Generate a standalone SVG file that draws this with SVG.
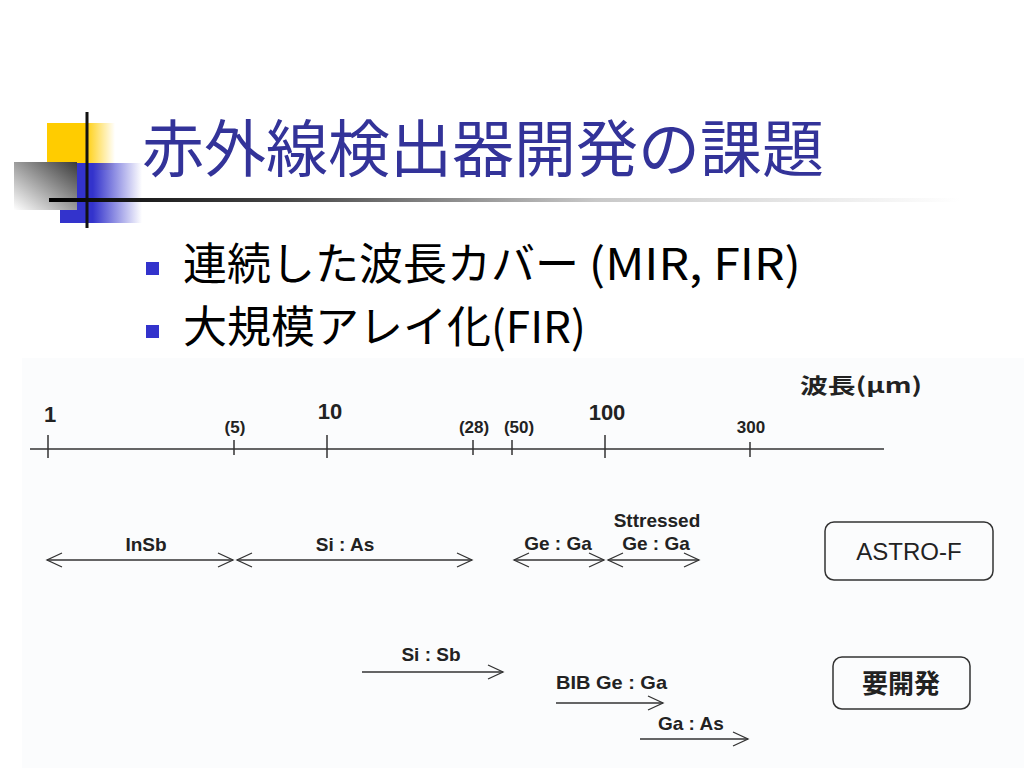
<svg xmlns="http://www.w3.org/2000/svg" width="1024" height="768" viewBox="0 0 1024 768">
<defs>
<linearGradient id="gYellow" x1="0" y1="0" x2="1" y2="0">
<stop offset="0" stop-color="#ffcc00"/><stop offset="0.55" stop-color="#ffcc00"/><stop offset="1" stop-color="#ffcc00" stop-opacity="0"/>
</linearGradient>
<linearGradient id="gBlue" x1="0" y1="0" x2="1" y2="0">
<stop offset="0" stop-color="#3333cc"/><stop offset="0.4" stop-color="#3333cc"/><stop offset="1" stop-color="#3333cc" stop-opacity="0"/>
</linearGradient>
<linearGradient id="gGrey" x1="0" y1="1" x2="1" y2="0">
<stop offset="0" stop-color="#ffffff"/><stop offset="1" stop-color="#3a3a3a"/>
</linearGradient>
<linearGradient id="gRule" gradientUnits="userSpaceOnUse" x1="49" y1="0" x2="960" y2="0">
<stop offset="0" stop-color="#000000"/><stop offset="0.25" stop-color="#444444"/><stop offset="0.6" stop-color="#c8c8c8"/><stop offset="1" stop-color="#ffffff"/>
</linearGradient>
<marker id="chev" markerUnits="userSpaceOnUse" viewBox="-17 -9 19 18" refX="0" refY="0" markerWidth="19" markerHeight="18" orient="auto-start-reverse">
<path d="M-15,-7 L0,0 L-15,7" fill="none" stroke="#333" stroke-width="1.3"/>
</marker>
</defs>
<style>
.title{font-family:"Noto Sans CJK JP",sans-serif;font-size:62px;fill:#333399}
.bul{font-family:"Noto Sans CJK JP",sans-serif;font-size:44px;fill:#000}
.dot{fill:#3333cc}
.big{font-family:"Liberation Sans",Arial,sans-serif;font-size:22px;font-weight:bold;fill:#222}
.sm{font-family:"Liberation Sans",Arial,sans-serif;font-size:17px;font-weight:bold;fill:#222}
.lab{font-family:"Liberation Sans",Arial,sans-serif;font-size:19px;font-weight:bold;fill:#222}
.box{fill:none;stroke:#333;stroke-width:1.5}
.ln{stroke:#333;stroke-width:1.5;fill:none}
.arr{stroke:#333;stroke-width:1.5;fill:none}
</style>
<rect width="1024" height="768" fill="#ffffff"/>
<g id="decoration">
<rect x="47" y="123" width="68" height="47" fill="url(#gYellow)"/>
<rect x="60" y="163" width="82" height="60" fill="url(#gBlue)"/>
<rect x="14" y="162" width="63" height="48" fill="url(#gGrey)"/>
<rect x="85.5" y="112" width="3" height="116" fill="#111"/>
<rect x="49" y="198" width="911" height="4" fill="url(#gRule)"/>
</g>
<g id="title"><text class="title" x="142" y="172">赤外線検出器開発の課題</text></g>
<g id="bullets">
<rect class="dot" x="146" y="262" width="13" height="13"/>
<text class="bul" x="183" y="280">連続した波長カバー <tspan textLength="212" lengthAdjust="spacingAndGlyphs">(MIR, FIR)</tspan></text>
<rect class="dot" x="146" y="325" width="13" height="13"/>
<text class="bul" x="183" y="343">大規模アレイ化(FIR)</text>
</g>
<rect id="panel" x="22" y="358" width="1002" height="410" fill="#fbfcfd"/>
<g id="axis">
<line class="ln" x1="30" y1="449" x2="884" y2="449"/>
<line class="ln" x1="48" y1="435" x2="48" y2="458"/>
<line class="ln" x1="234" y1="440" x2="234" y2="455"/>
<line class="ln" x1="327" y1="435" x2="327" y2="458"/>
<line class="ln" x1="473" y1="440" x2="473" y2="455"/>
<line class="ln" x1="512" y1="440" x2="512" y2="455"/>
<line class="ln" x1="605" y1="435" x2="605" y2="458"/>
<line class="ln" x1="750" y1="442" x2="750" y2="457"/>
<text class="big" x="50" y="422" text-anchor="middle">1</text>
<text class="sm" x="235" y="433" text-anchor="middle">(5)</text>
<text class="big" x="330" y="419" text-anchor="middle">10</text>
<text class="sm" x="474" y="433" text-anchor="middle">(28)</text>
<text class="sm" x="519" y="433" text-anchor="middle">(50)</text>
<text class="big" x="607" y="420" text-anchor="middle">100</text>
<text class="sm" x="751" y="433" text-anchor="middle">300</text>
<text x="800" y="393" textLength="122" lengthAdjust="spacingAndGlyphs" style="font-family:'Noto Sans CJK JP',sans-serif;font-size:21px;font-weight:bold;fill:#222">波長(μm)</text>
</g>
<g id="connectors">
<line class="arr" x1="47" y1="560" x2="233" y2="560" marker-start="url(#chev)" marker-end="url(#chev)"/>
<line class="arr" x1="237" y1="560" x2="472" y2="560" marker-start="url(#chev)" marker-end="url(#chev)"/>
<line class="arr" x1="514" y1="560" x2="604" y2="560" marker-start="url(#chev)" marker-end="url(#chev)"/>
<line class="arr" x1="608" y1="560" x2="699" y2="560" marker-start="url(#chev)" marker-end="url(#chev)"/>
<line class="arr" x1="362" y1="672" x2="503" y2="672" marker-end="url(#chev)"/>
<line class="arr" x1="556" y1="703" x2="663" y2="703" marker-end="url(#chev)"/>
<line class="arr" x1="640" y1="739" x2="748" y2="739" marker-end="url(#chev)"/>
</g>
<g id="labels">
<text class="lab" x="146" y="551" text-anchor="middle">InSb</text>
<text class="lab" x="345" y="551" text-anchor="middle">Si : As</text>
<text class="lab" x="558" y="550" text-anchor="middle">Ge : Ga</text>
<text class="lab" x="657" y="527" text-anchor="middle">Sttressed</text>
<text class="lab" x="656" y="550" text-anchor="middle">Ge : Ga</text>
<text class="lab" x="431" y="661" text-anchor="middle">Si : Sb</text>
<text class="lab" x="556" y="689" textLength="111" lengthAdjust="spacingAndGlyphs">BIB Ge : Ga</text>
<text class="lab" x="658" y="730">Ga : As</text>
</g>
<g id="astro-f">
<rect class="box" x="825" y="522" width="168" height="58" rx="9"/>
<text x="909" y="560" text-anchor="middle" style="font-family:'Liberation Sans',Arial,sans-serif;font-size:24px;fill:#222">ASTRO-F</text>
</g>
<g id="yokaihatsu">
<rect class="box" x="833" y="657" width="137" height="52" rx="9"/>
<text x="901" y="693" text-anchor="middle" style="font-family:'Noto Sans CJK JP',sans-serif;font-size:26px;font-weight:bold;fill:#222">要開発</text>
</g>
</svg>
